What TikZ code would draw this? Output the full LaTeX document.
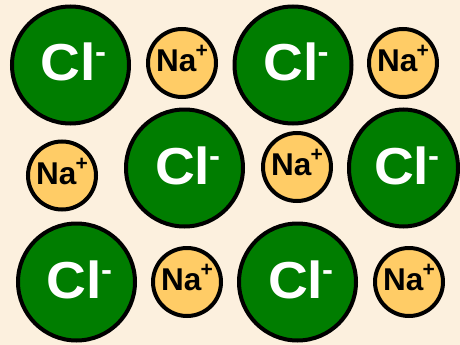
\documentclass[tikz,border=0pt]{standalone}
\usepackage{fontspec}
\setmainfont{Liberation Sans}
\usetikzlibrary{shapes.geometric}
\definecolor{bgcream}{RGB}{252,240,222}
\definecolor{clgreen}{RGB}{0,125,0}
\definecolor{naorange}{RGB}{255,204,102}
\newcommand{\cltext}{\hspace*{6pt}\scalebox{1.06}[1]{\fontsize{52}{52}\selectfont\bfseries Cl\kern-1pt\raisebox{18pt}{\fontsize{31}{31}\selectfont -}}}
\newcommand{\natext}{\fontsize{31.5}{31.5}\selectfont\bfseries Na\kern-1pt\raisebox{14pt}{\fontsize{21}{21}\selectfont +}}
\tikzset{
  ionchl/.style={circle, draw=black, line width=4pt, fill=clgreen, minimum size=117pt,
    inner sep=0pt, text=white, text height=38pt, text depth=6pt},
  ionchlw/.style={ellipse, draw=black, line width=4pt, fill=clgreen, minimum width=109pt,
    minimum height=117pt, inner sep=0pt, text=white, text height=38pt, text depth=6pt},
  ionna/.style={circle, draw=black, line width=4pt, fill=naorange, minimum size=68pt,
    inner sep=0pt, text=black, text height=23pt, text depth=6pt}
}
\begin{document}
\begin{tikzpicture}[x=1pt,y=-1pt]
\useasboundingbox (0,0) rectangle (460,345);
\fill[bgcream] (0,0) rectangle (460,345);
\clip (0,0) rectangle (460,345);
% top row
\node[ionchl] (cl1) at (70.5,65) {\cltext};
\node[ionna]  (na1) at (182,63) {\natext};
\node[ionchl] (cl2) at (293,65) {\cltext};
\node[ionna]  (na2) at (403,63) {\natext};
% middle row
\node[ionna]  (na3) at (62,175.5) {\natext};
\node[ionchl] (cl3) at (184.5,168) {\cltext};
\node[ionna]  (na4) at (297,167) {\natext};
\node[ionchlw] (cl4) at (403.5,168) {\cltext};
% bottom row
\node[ionchl] (cl5) at (76.5,282) {\cltext};
\node[ionna]  (na5) at (187,282) {\natext};
\node[ionchl] (cl6) at (297.5,282) {\cltext};
\node[ionna]  (na6) at (409,282) {\natext};
\end{tikzpicture}
\end{document}
